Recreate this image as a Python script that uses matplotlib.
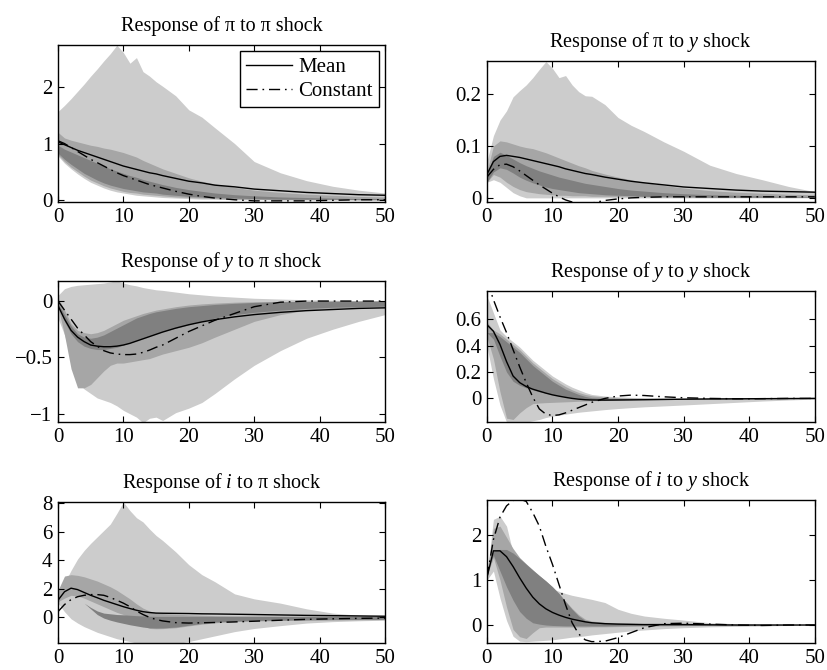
import matplotlib
matplotlib.use("Agg")
import matplotlib.pyplot as plt
from matplotlib.ticker import FuncFormatter

plt.rcParams["font.family"] = ["Liberation Serif", "DejaVu Serif"]
plt.rcParams["mathtext.fontset"] = "custom"
plt.rcParams["mathtext.rm"] = "Liberation Serif"
plt.rcParams["mathtext.it"] = "Liberation Serif:italic"

# horizons (quarters)
H = [0, 1, 2, 3, 4, 5, 6, 7, 8, 9, 10, 11, 12, 13, 14, 15, 16, 18, 20, 22, 24, 27, 30, 34, 38, 42, 46, 50]

# response of pi to pi shock
pp_light_hi = [1.57, 1.68, 1.8, 1.93, 2.06, 2.2, 2.33, 2.47, 2.6, 2.75, 2.62, 2.43, 2.53, 2.28, 2.2, 2.1, 2.02, 1.85, 1.6, 1.47, 1.28, 1.0, 0.68, 0.48, 0.34, 0.24, 0.17, 0.12]
pp_light_lo = [0.78, 0.65, 0.55, 0.46, 0.38, 0.31, 0.26, 0.21, 0.17, 0.14, 0.12, 0.1, 0.08, 0.07, 0.06, 0.05, 0.04, 0.03, 0.02, 0.01, 0.01, 0.0, 0.0, 0.0, 0.0, 0.0, 0.0, 0.0]
pp_mid_hi = [1.2, 1.1, 1.06, 1.03, 1.0, 0.97, 0.95, 0.92, 0.9, 0.87, 0.84, 0.8, 0.76, 0.7, 0.65, 0.6, 0.55, 0.47, 0.39, 0.33, 0.28, 0.22, 0.17, 0.13, 0.1, 0.08, 0.06, 0.05]
pp_mid_lo = [0.8, 0.68, 0.58, 0.5, 0.42, 0.35, 0.3, 0.25, 0.21, 0.18, 0.15, 0.13, 0.12, 0.1, 0.09, 0.08, 0.07, 0.05, 0.04, 0.03, 0.02, 0.01, 0.01, 0.0, 0.0, 0.0, 0.0, 0.0]
pp_dark_hi = [0.97, 0.9, 0.85, 0.8, 0.75, 0.7, 0.65, 0.6, 0.55, 0.51, 0.47, 0.43, 0.4, 0.36, 0.33, 0.3, 0.27, 0.22, 0.18, 0.15, 0.12, 0.09, 0.07, 0.05, 0.04, 0.03, 0.02, 0.02]
pp_dark_lo = [0.83, 0.72, 0.63, 0.55, 0.47, 0.41, 0.35, 0.3, 0.26, 0.23, 0.2, 0.18, 0.16, 0.14, 0.13, 0.12, 0.1, 0.08, 0.06, 0.05, 0.04, 0.03, 0.02, 0.01, 0.01, 0.01, 0.0, 0.0]
pp_mean = [1.03, 0.98, 0.93, 0.88, 0.84, 0.8, 0.76, 0.72, 0.68, 0.64, 0.6, 0.57, 0.54, 0.51, 0.48, 0.46, 0.43, 0.38, 0.33, 0.3, 0.26, 0.23, 0.19, 0.16, 0.13, 0.11, 0.09, 0.08]
pp_const = [1.05, 1.0, 0.93, 0.86, 0.79, 0.72, 0.66, 0.6, 0.54, 0.48, 0.43, 0.39, 0.35, 0.31, 0.27, 0.24, 0.21, 0.15, 0.1, 0.06, 0.03, 0.0, -0.02, -0.02, -0.02, -0.01, 0.0, 0.0]

# response of pi to y shock
py_light_hi = [0.07, 0.12, 0.15, 0.168, 0.195, 0.207, 0.218, 0.232, 0.248, 0.263, 0.25, 0.232, 0.236, 0.218, 0.205, 0.197, 0.196, 0.18, 0.155, 0.14, 0.128, 0.108, 0.09, 0.063, 0.047, 0.035, 0.022, 0.012]
py_light_lo = [0.03, 0.035, 0.03, 0.02, 0.01, 0.004, 0.0, 0.0, 0.0, 0.0, 0.0, 0.0, 0.0, 0.0, 0.0, 0.0, 0.0, 0.0, 0.0, 0.0, 0.0, 0.0, 0.0, 0.0, 0.0, 0.0, 0.0, 0.0]
py_mid_hi = [0.05, 0.1, 0.11, 0.108, 0.104, 0.1, 0.097, 0.095, 0.091, 0.087, 0.082, 0.077, 0.072, 0.067, 0.062, 0.058, 0.053, 0.046, 0.04, 0.035, 0.03, 0.024, 0.019, 0.014, 0.011, 0.009, 0.007, 0.006]
py_mid_lo = [0.03, 0.045, 0.04, 0.03, 0.022, 0.016, 0.012, 0.01, 0.008, 0.007, 0.006, 0.005, 0.005, 0.004, 0.004, 0.004, 0.003, 0.003, 0.003, 0.003, 0.002, 0.002, 0.002, 0.002, 0.002, 0.002, 0.002, 0.002]
py_dark_hi = [0.045, 0.08, 0.088, 0.082, 0.075, 0.068, 0.062, 0.057, 0.052, 0.048, 0.044, 0.04, 0.037, 0.034, 0.031, 0.028, 0.026, 0.022, 0.018, 0.015, 0.013, 0.01, 0.008, 0.006, 0.005, 0.004, 0.003, 0.003]
py_dark_lo = [0.03, 0.05, 0.058, 0.055, 0.048, 0.04, 0.034, 0.029, 0.025, 0.021, 0.018, 0.016, 0.014, 0.012, 0.01, 0.009, 0.008, 0.006, 0.005, 0.004, 0.003, 0.002, 0.002, 0.001, 0.001, 0.001, 0.001, 0.001]
py_mean = [0.045, 0.07, 0.08, 0.082, 0.08, 0.078, 0.075, 0.072, 0.069, 0.066, 0.063, 0.06, 0.056, 0.053, 0.05, 0.047, 0.045, 0.04, 0.036, 0.032, 0.029, 0.025, 0.021, 0.018, 0.015, 0.013, 0.012, 0.011]
py_const = [0.04, 0.055, 0.064, 0.065, 0.06, 0.052, 0.043, 0.034, 0.025, 0.017, 0.009, 0.002, -0.004, -0.008, -0.011, -0.012, -0.01, -0.005, -0.002, 0.0, 0.001, 0.002, 0.002, 0.002, 0.002, 0.002, 0.002, 0.002]

# response of y to pi shock
yp_light_hi = [0.05, 0.11, 0.13, 0.14, 0.145, 0.15, 0.155, 0.16, 0.17, 0.18, 0.16, 0.145, 0.135, 0.12, 0.11, 0.1, 0.095, 0.08, 0.065, 0.055, 0.045, 0.035, 0.025, 0.018, 0.012, 0.008, 0.004, 0.0]
yp_light_lo = [-0.15, -0.3, -0.5, -0.72, -0.78, -0.82, -0.86, -0.88, -0.9, -0.93, -0.97, -1.0, -1.03, -1.08, -1.04, -1.03, -1.06, -0.99, -0.95, -0.9, -0.82, -0.69, -0.57, -0.44, -0.33, -0.25, -0.18, -0.12]
yp_mid_hi = [0.03, -0.08, -0.2, -0.26, -0.28, -0.29, -0.28, -0.26, -0.23, -0.2, -0.17, -0.15, -0.13, -0.11, -0.095, -0.08, -0.07, -0.05, -0.035, -0.025, -0.018, -0.01, -0.006, -0.003, -0.002, 0.0, 0.0, 0.0]
yp_mid_lo = [-0.05, -0.3, -0.6, -0.77, -0.77, -0.74, -0.68, -0.62, -0.57, -0.55, -0.55, -0.54, -0.53, -0.52, -0.51, -0.49, -0.47, -0.44, -0.41, -0.37, -0.32, -0.25, -0.18, -0.12, -0.08, -0.065, -0.055, -0.05]
yp_dark_hi = [-0.02, -0.12, -0.22, -0.29, -0.32, -0.33, -0.32, -0.3, -0.27, -0.24, -0.21, -0.18, -0.15, -0.13, -0.11, -0.095, -0.085, -0.065, -0.05, -0.04, -0.03, -0.02, -0.012, -0.006, -0.003, -0.002, -0.001, 0.0]
yp_dark_lo = [-0.05, -0.18, -0.29, -0.36, -0.4, -0.42, -0.43, -0.43, -0.42, -0.41, -0.39, -0.37, -0.35, -0.33, -0.31, -0.29, -0.27, -0.24, -0.21, -0.18, -0.15, -0.12, -0.1, -0.08, -0.065, -0.055, -0.05, -0.045]
yp_mean = [-0.04, -0.16, -0.26, -0.32, -0.36, -0.39, -0.4, -0.405, -0.405, -0.4, -0.39, -0.375, -0.355, -0.335, -0.315, -0.295, -0.275, -0.24, -0.21, -0.185, -0.165, -0.14, -0.12, -0.1, -0.085, -0.075, -0.065, -0.06]
yp_const = [0.0, -0.08, -0.16, -0.24, -0.3, -0.36, -0.4, -0.44, -0.46, -0.47, -0.475, -0.475, -0.47, -0.455, -0.435, -0.41, -0.39, -0.33, -0.27, -0.22, -0.17, -0.11, -0.05, -0.01, 0.0, 0.0, 0.0, 0.0]

# response of y to y shock
yy_light_hi = [0.78, 0.65, 0.52, 0.47, 0.43, 0.39, 0.34, 0.29, 0.25, 0.21, 0.17, 0.14, 0.11, 0.085, 0.065, 0.045, 0.03, 0.018, 0.012, 0.008, 0.005, 0.003, 0.002, 0.001, 0.0, 0.0, 0.0, 0.0]
yy_light_lo = [0.4, 0.15, -0.05, -0.18, -0.19, -0.19, -0.18, -0.17, -0.16, -0.145, -0.135, -0.127, -0.12, -0.112, -0.105, -0.1, -0.095, -0.085, -0.077, -0.07, -0.064, -0.057, -0.05, -0.04, -0.03, -0.02, -0.012, -0.005]
yy_mid_hi = [0.58, 0.52, 0.49, 0.45, 0.41, 0.37, 0.32, 0.27, 0.23, 0.19, 0.15, 0.12, 0.09, 0.065, 0.045, 0.03, 0.02, 0.01, 0.005, 0.003, 0.002, 0.001, 0.0, 0.0, 0.0, 0.0, 0.0, 0.0]
yy_mid_lo = [0.47, 0.3, 0.05, -0.15, -0.16, -0.11, -0.07, -0.04, -0.035, -0.032, -0.03, -0.028, -0.026, -0.024, -0.022, -0.02, -0.018, -0.016, -0.014, -0.012, -0.01, -0.008, -0.006, -0.004, -0.003, -0.002, -0.001, 0.0]
yy_dark_hi = [0.5, 0.5, 0.47, 0.43, 0.39, 0.35, 0.3, 0.25, 0.21, 0.17, 0.13, 0.1, 0.07, 0.05, 0.03, 0.015, 0.005, 0.0, -0.002, -0.002, -0.002, -0.002, -0.002, -0.002, -0.001, -0.001, 0.0, 0.0]
yy_dark_lo = [0.5, 0.45, 0.32, 0.2, 0.13, 0.1, 0.08, 0.065, 0.05, 0.04, 0.03, 0.02, 0.012, 0.005, 0.0, -0.005, -0.008, -0.01, -0.01, -0.009, -0.008, -0.007, -0.006, -0.005, -0.004, -0.003, -0.002, -0.001]
yy_mean = [0.56, 0.51, 0.41, 0.28, 0.17, 0.12, 0.09, 0.07, 0.055, 0.04, 0.027, 0.017, 0.008, 0.0, -0.006, -0.01, -0.012, -0.013, -0.012, -0.011, -0.01, -0.008, -0.006, -0.004, -0.003, -0.002, -0.001, 0.0]
yy_const = [0.9, 0.75, 0.62, 0.5, 0.37, 0.24, 0.12, 0.01, -0.08, -0.12, -0.13, -0.125, -0.11, -0.09, -0.07, -0.05, -0.03, 0.0, 0.018, 0.025, 0.022, 0.012, 0.005, 0.0, -0.003, -0.002, 0.0, 0.0]

# response of i to pi shock
ip_light_hi = [2.0, 2.4, 3.3, 4.1, 4.7, 5.2, 5.65, 6.1, 6.55, 7.3, 8.1, 7.5, 7.0, 6.7, 6.2, 5.75, 5.4, 4.6, 3.7, 3.0, 2.5, 1.65, 1.3, 1.0, 0.6, 0.3, 0.15, 0.1]
ip_light_lo = [1.0, 0.4, -0.1, -0.4, -0.65, -0.85, -1.05, -1.2, -1.35, -1.5, -1.6, -1.7, -1.8, -1.9, -1.95, -1.95, -1.9, -1.85, -1.7, -1.5, -1.3, -1.0, -0.78, -0.58, -0.4, -0.3, -0.24, -0.2]
ip_mid_hi = [1.9, 2.9, 3.0, 2.95, 2.85, 2.7, 2.55, 2.35, 2.15, 1.9, 1.6, 1.3, 0.95, 0.65, 0.45, 0.32, 0.27, 0.22, 0.18, 0.15, 0.12, 0.1, 0.08, 0.06, 0.05, 0.04, 0.03, 0.02]
ip_mid_lo = [1.1, 1.35, 1.55, 1.5, 1.35, 1.15, 0.95, 0.75, 0.55, 0.35, 0.2, 0.0, -0.3, -0.6, -0.78, -0.8, -0.79, -0.73, -0.6, -0.48, -0.38, -0.3, -0.26, -0.22, -0.2, -0.18, -0.17, -0.16]
ip_dark_hi = [1.2, 1.5, 1.5, 1.3, 1.0, 0.7, 0.45, 0.3, 0.25, 0.2, 0.18, 0.15, 0.12, 0.1, 0.08, 0.07, 0.07, 0.07, 0.07, 0.07, 0.07, 0.07, 0.08, 0.08, 0.08, 0.08, 0.07, 0.06]
ip_dark_lo = [1.2, 1.5, 1.5, 1.3, 1.0, 0.6, 0.2, -0.05, -0.2, -0.32, -0.42, -0.52, -0.6, -0.68, -0.73, -0.75, -0.74, -0.68, -0.55, -0.43, -0.33, -0.26, -0.22, -0.19, -0.17, -0.16, -0.15, -0.14]
ip_mean = [1.2, 1.8, 2.05, 1.95, 1.75, 1.55, 1.38, 1.2, 1.05, 0.9, 0.75, 0.62, 0.5, 0.4, 0.34, 0.3, 0.29, 0.28, 0.27, 0.25, 0.24, 0.22, 0.2, 0.17, 0.14, 0.12, 0.1, 0.08]
ip_const = [0.4, 0.9, 1.25, 1.45, 1.55, 1.6, 1.6, 1.55, 1.4, 1.2, 1.0, 0.75, 0.45, 0.2, 0.0, -0.15, -0.25, -0.37, -0.4, -0.38, -0.36, -0.32, -0.27, -0.2, -0.14, -0.1, -0.07, -0.05]

# response of i to y shock
iy_light_hi = [1.1, 2.35, 2.42, 2.2, 1.6, 1.1, 0.85, 0.82, 0.81, 0.81, 0.8, 0.75, 0.7, 0.66, 0.63, 0.6, 0.57, 0.5, 0.35, 0.26, 0.2, 0.15, 0.11, 0.05, 0.03, 0.02, 0.01, 0.0]
iy_light_lo = [1.0, 1.2, 0.6, 0.1, -0.25, -0.36, -0.37, -0.36, -0.35, -0.34, -0.33, -0.31, -0.29, -0.27, -0.26, -0.24, -0.22, -0.19, -0.16, -0.13, -0.11, -0.08, -0.06, -0.04, -0.03, -0.02, -0.01, 0.0]
iy_mid_hi = [1.15, 2.15, 2.2, 1.95, 1.7, 1.5, 1.36, 1.23, 1.1, 0.98, 0.85, 0.7, 0.53, 0.37, 0.23, 0.13, 0.09, 0.06, 0.05, 0.04, 0.03, 0.02, 0.015, 0.01, 0.005, 0.0, 0.0, 0.0]
iy_mid_lo = [1.1, 1.5, 1.0, 0.4, -0.1, -0.26, -0.3, -0.17, -0.06, -0.045, -0.045, -0.045, -0.045, -0.045, -0.045, -0.045, -0.04, -0.04, -0.035, -0.03, -0.025, -0.02, -0.015, -0.01, -0.01, -0.005, 0.0, 0.0]
iy_dark_hi = [1.2, 1.65, 1.68, 1.68, 1.6, 1.48, 1.35, 1.22, 1.1, 0.98, 0.85, 0.7, 0.52, 0.35, 0.2, 0.1, 0.06, 0.04, 0.03, 0.02, 0.015, 0.01, 0.01, 0.005, 0.0, 0.0, 0.0, 0.0]
iy_dark_lo = [1.2, 1.55, 1.2, 0.85, 0.55, 0.3, 0.15, 0.05, 0.02, 0.0, -0.01, -0.015, -0.02, -0.02, -0.02, -0.02, -0.02, -0.02, -0.015, -0.012, -0.01, -0.008, -0.006, -0.004, -0.003, -0.002, -0.001, 0.0]
iy_mean = [1.05, 1.65, 1.65, 1.52, 1.3, 1.05, 0.82, 0.62, 0.47, 0.36, 0.28, 0.22, 0.17, 0.13, 0.1, 0.07, 0.05, 0.03, 0.02, 0.015, 0.01, 0.01, 0.01, 0.005, 0.0, 0.0, 0.0, 0.0]
iy_const = [1.05, 1.9, 2.4, 2.65, 2.77, 2.8, 2.75, 2.5, 2.2, 1.75, 1.35, 0.9, 0.45, 0.05, -0.2, -0.33, -0.37, -0.36, -0.28, -0.17, -0.06, 0.03, 0.04, 0.02, 0.0, -0.01, 0.0, 0.0]

LIGHT, MID, DARK = "#cccccc", "#a6a6a6", "#808080"
DASHDOT = (0, (8, 3.5, 1.2, 3.5))


def fmt(v, pos):
    s = f"{v:g}"
    return s.replace("-", "\u2212")


def draw_panel(ax, title, bands, mean, const, ylim, yticks, legend=False):
    light_hi, light_lo, mid_hi, mid_lo, dark_hi, dark_lo = bands
    ax.fill_between(H, light_lo, light_hi, color=LIGHT, linewidth=0)
    ax.fill_between(H, mid_lo, mid_hi, color=MID, linewidth=0)
    ax.fill_between(H, dark_lo, dark_hi, color=DARK, linewidth=0)
    ax.plot(H, mean, color="black", linewidth=1.0, label="Mean")
    ax.plot(H, const, color="black", linewidth=1.0, linestyle=DASHDOT, label="Constant")
    ax.set_xlim(0, 50)
    ax.set_ylim(*ylim)
    ax.set_xticks([0, 10, 20, 30, 40, 50])
    ax.set_yticks(yticks)
    ax.yaxis.set_major_formatter(FuncFormatter(fmt))
    ax.tick_params(direction="in", top=True, right=True, length=4, width=0.8,
                   labelsize=15, colors="black")
    ax.tick_params(axis="x", pad=4)
    ax.tick_params(axis="y", pad=4)
    for sp in ax.spines.values():
        sp.set_linewidth(1.0)
    ax.set_title(title, fontsize=14.5, pad=10)
    if legend:
        leg = ax.legend(loc="upper right", fontsize=15, frameon=True, fancybox=False,
                        edgecolor="black", framealpha=1, borderaxespad=0.3,
                        borderpad=0.3, labelspacing=0.2, handletextpad=0.3,
                        handlelength=2.2)
        leg.get_frame().set_linewidth(1.0)


fig = plt.figure(figsize=(8.28, 6.70), dpi=100)

ax1 = fig.add_axes([0.070, 0.6985, 0.395, 0.234])
ax2 = fig.add_axes([0.588, 0.6985, 0.396, 0.2104])
ax3 = fig.add_axes([0.070, 0.370, 0.395, 0.2104])
ax4 = fig.add_axes([0.588, 0.370, 0.396, 0.1955])
ax5 = fig.add_axes([0.070, 0.0403, 0.395, 0.2104])
ax6 = fig.add_axes([0.588, 0.0403, 0.396, 0.2134])

draw_panel(ax1, "Response of \u03c0 to \u03c0 shock",
           (pp_light_hi, pp_light_lo, pp_mid_hi, pp_mid_lo, pp_dark_hi, pp_dark_lo),
           pp_mean, pp_const, (-0.04, 2.75), [0, 1, 2], legend=True)
draw_panel(ax2, "Response of \u03c0 to $y$ shock",
           (py_light_hi, py_light_lo, py_mid_hi, py_mid_lo, py_dark_hi, py_dark_lo),
           py_mean, py_const, (-0.008, 0.264), [0, 0.1, 0.2])
draw_panel(ax3, "Response of $y$ to \u03c0 shock",
           (yp_light_hi, yp_light_lo, yp_mid_hi, yp_mid_lo, yp_dark_hi, yp_dark_lo),
           yp_mean, yp_const, (-1.074, 0.177), [-1, -0.5, 0])
draw_panel(ax4, "Response of $y$ to $y$ shock",
           (yy_light_hi, yy_light_lo, yy_mid_hi, yy_mid_lo, yy_dark_hi, yy_dark_lo),
           yy_mean, yy_const, (-0.18, 0.815), [0, 0.2, 0.4, 0.6])
draw_panel(ax5, "Response of $i$ to \u03c0 shock",
           (ip_light_hi, ip_light_lo, ip_mid_hi, ip_mid_lo, ip_dark_hi, ip_dark_lo),
           ip_mean, ip_const, (-1.8, 8.1), [0, 2, 4, 6, 8])
draw_panel(ax6, "Response of $i$ to $y$ shock",
           (iy_light_hi, iy_light_lo, iy_mid_hi, iy_mid_lo, iy_dark_hi, iy_dark_lo),
           iy_mean, iy_const, (-0.4, 2.78), [0, 1, 2])

fig.savefig("out.png", dpi=100)
